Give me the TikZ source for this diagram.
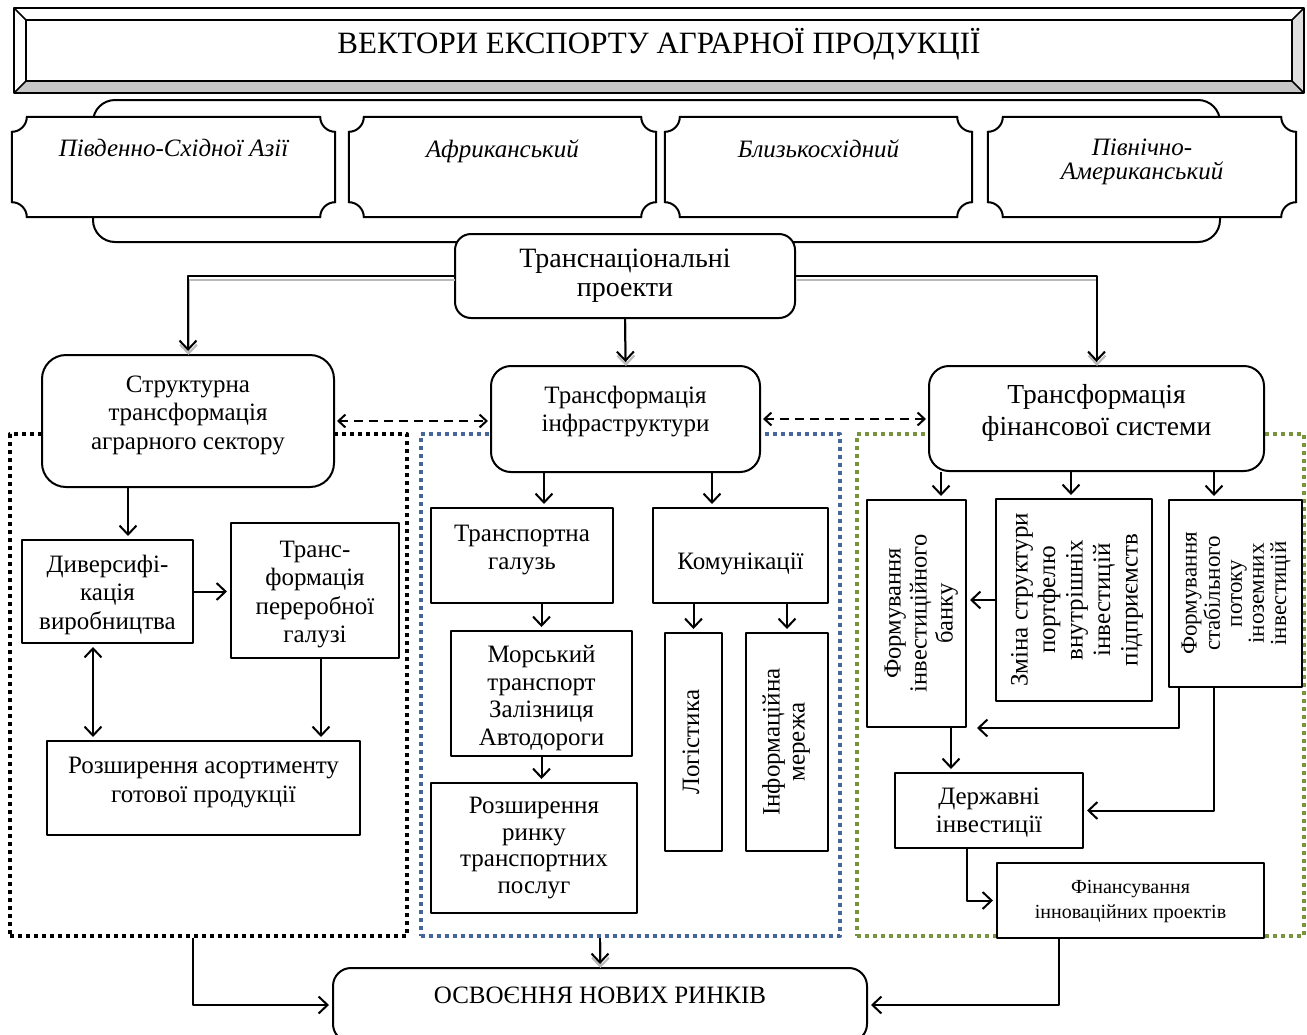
\documentclass[tikz,border=0pt]{standalone}
\usepackage{fontspec}
\setmainfont{Liberation Serif}
\usetikzlibrary{arrows.meta,backgrounds,calc}
\definecolor{zblue}{RGB}{68,102,154}
\definecolor{zgreen}{RGB}{119,147,60}
\newcommand\fsz[2]{\fontsize{#1}{#2}\selectfont}
\newcommand\tx[2][0pt]{\raisebox{#1}[\height][\depth]{\begin{tabular}{@{}c@{}}#2\end{tabular}}}
\newcommand\vtext[2][0pt]{\rotatebox{90}{\tx[#1]{#2}}}
\newcommand\plq[1]{\draw[line width=2pt, fill=white] ([xshift=15pt]#1.north west) -- ([xshift=-15pt]#1.north east) arc[start angle=180,end angle=270,radius=15pt] -- ([yshift=15pt]#1.south east) arc[start angle=90,end angle=180,radius=15pt] -- ([xshift=15pt]#1.south west) arc[start angle=0,end angle=90,radius=15pt] -- ([yshift=-15pt]#1.north west) arc[start angle=270,end angle=360,radius=15pt] -- cycle;}
\begin{document}
\begin{tikzpicture}[x=1pt,y=1pt, line join=round,
  box/.style={draw, line width=2pt, fill=white, font=\fsz{25}{28.5}, inner sep=0pt},
  rbox/.style={box, rounded corners=20pt},
  arr/.style={line width=2pt, shorten >=3pt, -{Straight Barb[length=9pt,width=17pt]}},
  darr/.style={line width=2pt, shorten >=3pt, shorten <=3pt, {Straight Barb[length=9pt,width=17pt]}-{Straight Barb[length=9pt,width=17pt]}},
  dasharr/.style={line width=2pt, dash pattern=on 9pt off 6pt, shorten >=2pt, shorten <=2pt, {Straight Barb[length=7pt,width=13pt]}-{Straight Barb[length=7pt,width=13pt]}},
  zone/.style={line width=4pt, dash pattern=on 4pt off 4pt, inner sep=0pt},
  plqtxt/.style={font=\itshape\fsz{25}{24}, align=center, anchor=north},
]
\useasboundingbox (0,0) rectangle (1307,-1034);

% title
\fill[white] (14,-8) rectangle (1304,-93);
\fill[gray!45] (14,-93) -- (1304,-93) -- (1292,-81) -- (26,-81) -- cycle;
\fill[gray!25] (1304,-8) -- (1304,-93) -- (1292,-81) -- (1292,-20) -- cycle;
\draw[line width=2.5pt] (14,-8) rectangle (1304,-93);
\draw[line width=2.5pt] (26,-20) rectangle (1292,-81);
\draw[line width=1.5pt] (14,-8)--(26,-20) (1304,-8)--(1292,-20) (14,-93)--(26,-81) (1304,-93)--(1292,-81);
\node[font=\fsz{31}{34}] (title) at (659,-44) {ВЕКТОРИ ЕКСПОРТУ АГРАРНОЇ ПРОДУКЦІЇ};

% regions
\node[minimum width=323pt, minimum height=100pt] (r1) at (173.5,-167) {};
\node[minimum width=307pt, minimum height=100pt] (r2) at (502.5,-167) {};
\node[minimum width=307pt, minimum height=100pt] (r3) at (818.5,-167) {};
\node[minimum width=308pt, minimum height=100pt] (r4) at (1142,-167) {};
\begin{scope}[on background layer]
  \node[draw, line width=2pt, rounded corners=22pt, minimum width=1127pt, minimum height=142pt] (band) at (656.5,-171) {};
  \plq{r1}\plq{r2}\plq{r3}\plq{r4}
\end{scope}
\node[plqtxt] (t1) at ([yshift=-19pt]r1.north) {Південно-Східної Азії};
\node[plqtxt] (t2) at ([yshift=-19pt]r2.north) {Африканський};
\node[plqtxt] (t3) at ([yshift=-19pt]r3.north) {Близькосхідний};
\node[plqtxt] (t4) at ([yshift=-19pt]r4.north) {Північно-\\Американський};

% zones
\node[zone, draw=black, minimum width=397pt, minimum height=502pt] (zL) at (208.5,-685) {};
\node[zone, draw=zblue, minimum width=419pt, minimum height=502pt] (zC) at (630.5,-685) {};
\node[zone, draw=zgreen, minimum width=447pt, minimum height=502pt] (zR) at (1080.5,-685) {};

% main boxes
\node[rbox, rounded corners=16pt, font=\fsz{28}{29}, minimum width=340pt, minimum height=84pt] (tn) at (625,-276) {\tx{Транснаціональні\\проекти}};
\node[rbox, rounded corners=24pt, minimum width=292pt, minimum height=132pt] (struct) at (188,-421) {\tx[6pt]{Структурна\\трансформація\\аграрного сектору}};
\node[rbox, minimum width=269pt, minimum height=106pt] (infra) at (625.5,-419) {\tx[7pt]{Трансформація\\інфраструктури}};
\node[rbox, font=\fsz{27.5}{32}, minimum width=335pt, minimum height=105pt] (fin) at (1096.5,-418.5) {\tx[5pt]{Трансформація\\фінансової системи}};

% left zone
\node[box, minimum width=171pt, minimum height=103pt] (div) at (107.5,-591.5) {\tx[-3.5pt]{Диверсифі-\\кація\\виробництва}};
\node[box, minimum width=168pt, minimum height=135pt] (trp) at (315,-590.5) {\tx[-4pt]{Транс-\\формація\\переробної\\галузі}};
\node[box, minimum width=313pt, minimum height=94pt] (ras) at (203.5,-788) {\tx[5.5pt]{Розширення асортименту\\готової продукції}};

% centre zone
\node[box, minimum width=182pt, minimum height=95pt] (tg) at (522,-555.5) {\tx[5.5pt]{Транспортна\\галузь}};
\node[box, minimum width=175pt, minimum height=95pt] (kom) at (740.5,-555.5) {\tx[-8.5pt]{Комунікації}};
\node[box, font=\fsz{25}{27.5}, minimum width=181pt, minimum height=125pt] (mor) at (541.5,-693.5) {\tx[-5pt]{Морський\\транспорт\\Залізниця\\Автодороги}};
\node[box, font=\fsz{25}{26.5}, minimum width=206pt, minimum height=130pt] (roz) at (534,-848) {\tx{Розширення\\ринку\\транспортних\\послуг}};
\node[box, minimum width=57pt, minimum height=218pt] (log) at (693.5,-742) {\vtext{Логістика}};
\node[box, font=\fsz{25}{25}, minimum width=82pt, minimum height=218pt] (inf) at (787,-742) {\vtext{Інформаційна\\мережа}};

% right zone
\node[box, font=\fsz{24.5}{26}, minimum width=99pt, minimum height=227pt] (bank) at (916.5,-613.5) {\vtext[-5pt]{Формування\\інвестиційного\\банку}};
\node[box, font=\fsz{25}{27.5}, minimum width=156pt, minimum height=202pt] (zm) at (1074,-600) {\vtext[-3pt]{Зміна структури\\портфелю\\внутрішніх\\інвестицій\\підприємств}};
\node[box, font=\fsz{23}{22}, minimum width=133pt, minimum height=187pt] (stab) at (1235.5,-593.5) {\vtext[-1.5pt]{Формування\\стабільного\\потоку\\іноземних\\інвестицій}};
\node[box, minimum width=188pt, minimum height=75pt] (derzh) at (989,-810.5) {\tx[-2.5pt]{Державні\\інвестиції}};
\node[box, font=\fsz{20}{25}, minimum width=267pt, minimum height=75pt] (finan) at (1130.5,-900.5) {\tx{Фінансування\\інноваційних проектів}};

% bottom
\node[rbox, rounded corners=18pt, minimum width=534pt, minimum height=74pt] (osv) at (600,-1005) {};
\node[font=\fsz{25}{28}] (osvt) at ([yshift=10pt]osv.center) {ОСВОЄННЯ НОВИХ РИНКІВ};

% shadows of top connectors
\begin{scope}[transform canvas={shift={(0.5pt,-4pt)}}]
  \draw[arr, draw=gray!55] (tn.west) -| (struct.north);
  \draw[arr, draw=gray!55] (tn.east) -| (fin.north);
  \draw[arr, draw=gray!55] (tn.south) -- (infra.north);
  \draw[arr, draw=gray!55] (osv.north |- zC.south) -- (osv.north);
\end{scope}

% connectors
\draw[arr] (tn.west) -| (struct.north);
\draw[arr] (tn.east) -| (fin.north);
\draw[arr] (tn.south) -- (infra.north);
\draw[dasharr] (struct.east) -- (struct.east -| infra.west);
\draw[dasharr] (infra.east) -- (infra.east -| fin.west);

\coordinate (c1) at ([xshift=-60pt]struct.south);
\draw[arr] (c1) -- (c1 |- div.north);
\draw[arr] (div.east) -- (div.east -| trp.west);
\coordinate (c2) at ([xshift=-14.5pt]div.south);
\draw[darr] (c2) -- (c2 |- ras.north);
\coordinate (c3) at ([xshift=6pt]trp.south);
\draw[arr] (c3) -- (c3 |- ras.north);

\coordinate (c4) at ([xshift=-81.5pt]infra.south);
\draw[arr] (c4) -- (c4 |- tg.north);
\coordinate (c5) at ([xshift=86.5pt]infra.south);
\draw[arr] (c5) -- (c5 |- kom.north);
\draw[arr] (mor.north |- tg.south) -- (mor.north);
\draw[arr] (mor.south) -- (mor.south |- roz.north);
\draw[arr] (log.north |- kom.south) -- (log.north);
\draw[arr] (inf.north |- kom.south) -- (inf.north);

\coordinate (c6) at ([xshift=-155.5pt]fin.south);
\draw[arr] (c6) -- (c6 |- bank.north);
\coordinate (c7) at ([xshift=-25.5pt]fin.south);
\draw[arr] (c7) -- (c7 |- zm.north);
\coordinate (c8) at ([xshift=117.5pt]fin.south);
\draw[arr] (c8) -- (c8 |- stab.north);
\draw[arr] (zm.west) -- (zm.west -| bank.east);
\coordinate (c9) at ([xshift=-56.5pt]stab.south);
\draw[arr, shorten >=10pt] (c9) |- (bank.south east);
\coordinate (c11) at ([xshift=-21.5pt]stab.south);
\draw[arr] (c11) |- (derzh.east);
\coordinate (c12) at ([xshift=34.5pt]bank.south);
\draw[arr] (c12) -- (c12 |- derzh.north);
\coordinate (c13) at ([xshift=-22pt]derzh.south);
\draw[arr] (c13) |- (finan.west);

\draw[arr] (osv.north |- zC.south) -- (osv.north);
\coordinate (c14) at ([xshift=-15.5pt]zL.south);
\draw[arr] (c14) |- (osv.west);
\coordinate (c15) at ([xshift=-71.5pt]finan.south);
\draw[arr] (c15) |- (osv.east);
\end{tikzpicture}
\end{document}
